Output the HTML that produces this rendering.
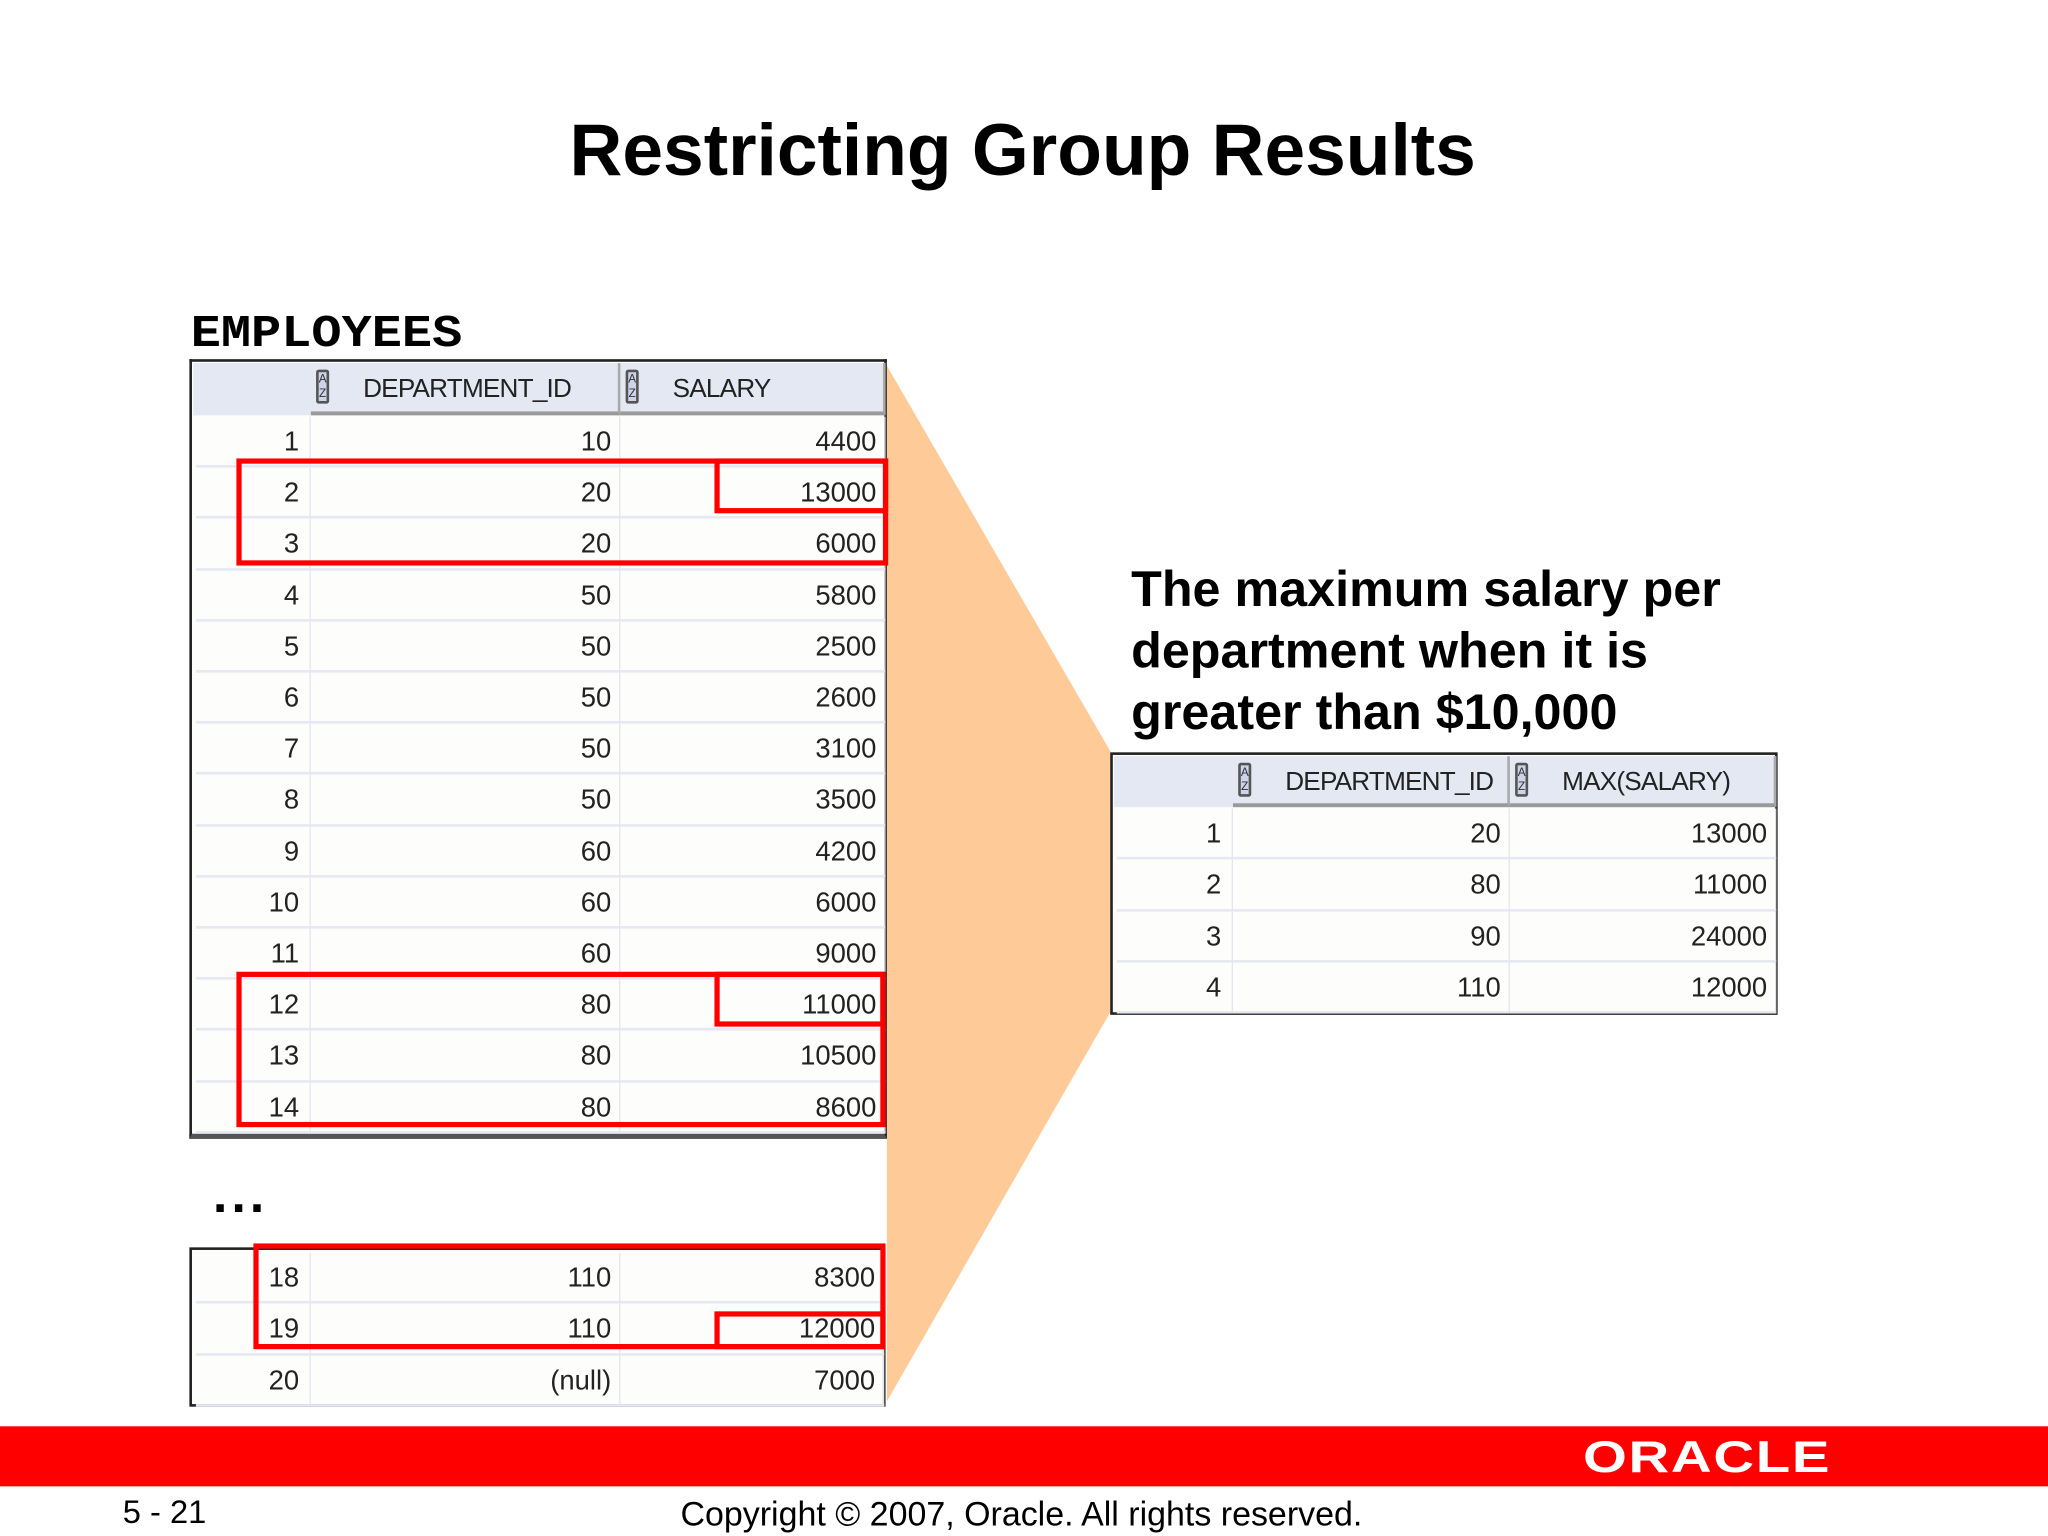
<!DOCTYPE html>
<html><head><meta charset="utf-8">
<style>
html,body{margin:0;padding:0;background:#fff;overflow:hidden;}
#root{width:2048px;height:1536px;position:relative;overflow:hidden;background:#fff;}
#stage{position:absolute;left:0;top:0;width:1568px;height:1176px;transform:scale(1.306122);transform-origin:0 0;font-family:"Liberation Sans",sans-serif;}
.abs{position:absolute;}
.tbl{position:absolute;border:2px solid #222;background:#fdfdfb;box-sizing:border-box;}
.hdr{position:absolute;background:#e3e8f2;}
.hc{position:absolute;border-bottom:3px solid #9a9a9a;border-right:2px solid #aaa;box-sizing:border-box;font-size:20px;color:#222;}
.cell{position:absolute;font-size:21px;color:#222;text-align:right;box-sizing:border-box;padding-right:6px;border-right:1px solid #e3e6ef;border-bottom:2px solid #e6e9f2;}
.icon{position:absolute;width:10px;height:26px;border:2px solid #555;border-radius:2px;background:#cdd3e8;font-size:9px;line-height:11px;text-align:center;color:#333;box-sizing:border-box;}
.red{position:absolute;border:4px solid #f00;box-sizing:border-box;}
</style></head><body>
<div id="root">
<div id="stage">
<svg class="abs" style="left:0;top:0" width="1568" height="1176">
<polygon points="679,280 850,575 850,775 679,1073" fill="#fdca98"/>
</svg>
<div class="abs" style="left:0;width:1566px;top:82px;text-align:center;font-size:56px;font-weight:bold;color:#000;">Restricting Group Results</div>
<div class="abs" style="left:146px;top:236px;font-family:'Liberation Mono',monospace;font-weight:bold;font-size:35px;color:#000;transform:scaleX(1.1);transform-origin:0 0;">EMPLOYEES</div>
<div class="abs" style="left:163px;top:893px;font-size:40px;font-weight:bold;letter-spacing:3px;">...</div>
<div class="abs" style="left:866px;top:428px;font-size:38.5px;font-weight:bold;line-height:47px;color:#000;">The maximum salary per<br>department when it is<br>greater than $10,000</div>

<div id="t1" class="tbl" style="left:145px;top:275px;width:534px;height:597px;border-bottom:4px solid #555;"></div>
<div id="t2" class="tbl" style="left:145px;top:955px;width:533px;height:122px;"></div>
<div id="t3" class="tbl" style="left:850px;top:576px;width:511px;height:201px;"></div>

<div class="red" style="left:181px;top:351px;width:499px;height:82px;"></div>
<div class="red" style="left:547px;top:351px;width:133px;height:42px;"></div>
<div class="red" style="left:181px;top:744px;width:497px;height:119px;"></div>
<div class="red" style="left:547px;top:744px;width:131px;height:42px;"></div>
<div class="red" style="left:194px;top:952px;width:484px;height:81px;"></div>
<div class="red" style="left:547px;top:1004px;width:131px;height:29px;"></div>

<div class="abs" style="left:0;top:1092px;width:1568px;height:46px;background:#ff0000;"></div>
<div class="abs" style="left:1212px;top:1097px;font-size:34px;font-weight:bold;color:#fff;letter-spacing:1px;transform:scaleX(1.27);transform-origin:0 0;">ORACLE</div>
<div class="abs" style="left:94px;top:1144px;font-size:25px;color:#000;">5 - 21</div>
<div class="abs" style="left:0;width:1564px;top:1144px;text-align:center;font-size:26px;color:#000;">Copyright © 2007, Oracle. All rights reserved.</div>
</div></div>
<script>
const empRows=[1,2,3,4,5,6,7,8,9,10,11,12,13,14];
const empDept=[10,20,20,50,50,50,50,50,60,60,60,80,80,80];
const empSal=[4400,13000,6000,5800,2500,2600,3100,3500,4200,6000,9000,11000,10500,8600];
const tailRows=[18,19,20];
const tailDept=['110','110','(null)'];
const tailSal=[8300,12000,7000];
const resRows=[1,2,3,4];
const resDept=[20,80,90,110];
const resMax=[13000,11000,24000,12000];

function header(t,cols,names,h){
  const hd=document.createElement('div');hd.className='hdr';
  hd.style.cssText='left:1px;top:1px;width:'+(cols[3]-1)+'px;height:'+h+'px;';
  
  
  t.appendChild(hd);
  for(let i=0;i<2;i++){
    const c=document.createElement('div');c.className='hc';
    c.style.cssText='left:'+cols[i+1]+'px;top:1px;width:'+(cols[i+2]-cols[i+1])+'px;height:'+h+'px;';
    
    
    const ic=document.createElement('div');ic.className='icon';ic.style.cssText='left:4px;top:5px;';ic.innerHTML='A<br>Z';
    
    
    c.appendChild(ic);
    const s=document.createElement('span');s.textContent=names[i];
    s.style.cssText='position:absolute;left:40px;top:'+(h/2-11)+'px;letter-spacing:-0.6px;white-space:nowrap;';
    c.appendChild(s);t.appendChild(c);
  }
}
function rows(t,cols,top,rh,a,b,c){
  for(let r=0;r<a.length;r++){
    const vals=[a[r],b[r],c[r]];
    for(let i=0;i<3;i++){
      const d=document.createElement('div');d.className='cell';
      d.style.cssText='left:'+cols[i]+'px;top:'+(top+r*rh)+'px;width:'+(cols[i+1]-cols[i])+'px;height:'+rh+'px;line-height:'+rh+'px;'+(i==0?'padding-right:8px;':'');
      d.textContent=vals[i];
      
      
      t.appendChild(d);
    }
  }
}
const t1=document.getElementById('t1');
const c1=[3,91,328,531];
header(t1,c1,['DEPARTMENT_ID','SALARY'],40);
rows(t1,c1,42,39.2,empRows,empDept,empSal);
const t2=document.getElementById('t2');
const c2=[3,91,328,530];
rows(t2,c2,2,39.3,tailRows,tailDept,tailSal);
const t3=document.getElementById('t3');
const c3=[3,92,304,508];
header(t3,c3,['DEPARTMENT_ID','MAX(SALARY)'],39);
rows(t3,c3,41,39.3,resRows,resDept,resMax);
</script>
</body></html>
